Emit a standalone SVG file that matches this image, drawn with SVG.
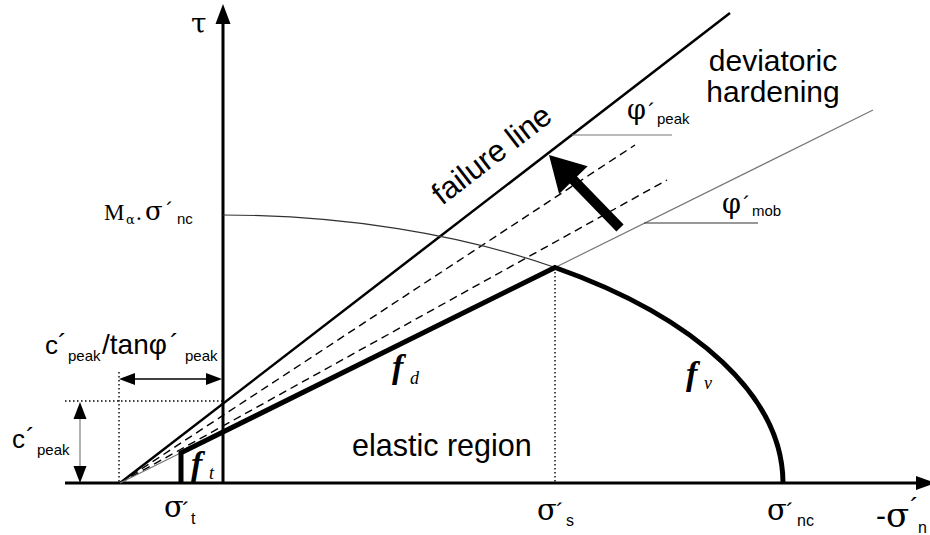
<svg xmlns="http://www.w3.org/2000/svg" width="930" height="535" viewBox="0 0 930 535">
<style>
.ax{stroke:#000;stroke-width:3;fill:none}
.fail{stroke:#000;stroke-width:2.5;fill:none}
.thick{stroke:#000;stroke-width:5;fill:none;stroke-linejoin:miter}
.dash{stroke:#000;stroke-width:1.4;stroke-dasharray:8 5;fill:none}
.thin{stroke:#777;stroke-width:1.2;fill:none}
.dark{stroke:#333;stroke-width:1.2;fill:none}
.dot{stroke:#000;stroke-width:1.4;stroke-dasharray:1.5 2.5;fill:none}
.sans{font-family:"Liberation Sans",Arial,sans-serif;fill:#000}
.serif{font-family:"Liberation Serif","Times New Roman",serif;fill:#000}
.gr{font-family:"DejaVu Serif","Liberation Serif",serif;fill:#000}
.fb{font-family:"Liberation Serif","Times New Roman",serif;font-style:italic;font-weight:bold;fill:#000}
.fi{font-family:"Liberation Serif","Times New Roman",serif;font-style:italic;fill:#000}
</style>
<rect width="930" height="535" fill="#fff"/>
<g id="connectors">
  <line class="ax" x1="65" y1="483" x2="920" y2="483"/>
  <polygon points="916,476 936,483 916,490" fill="#000"/>
  <line class="ax" x1="223" y1="483" x2="223" y2="20"/>
  <polygon points="215.5,24 223,4 230.5,24" fill="#000"/>
  <line class="dot" x1="119" y1="372" x2="119" y2="483"/>
  <line class="dot" x1="65" y1="401" x2="223" y2="401"/>
  <line class="dot" x1="555" y1="268" x2="555" y2="483"/>
  <line stroke="#000" stroke-width="1.5" x1="130" y1="379" x2="212" y2="379"/>
  <polygon points="119,379 135,373 135,385" fill="#000"/>
  <polygon points="222,379 206,373 206,385" fill="#000"/>
  <line stroke="#888" stroke-width="1.3" x1="80" y1="412" x2="80" y2="472"/>
  <polygon points="80,402 73.5,419 86.5,419" fill="#000"/>
  <polygon points="80,483 73.5,466 86.5,466" fill="#000"/>
  <line class="fail" x1="120" y1="483" x2="730" y2="13"/>
  <line class="dash" x1="120" y1="483" x2="635" y2="145"/>
  <line class="dash" x1="120" y1="483" x2="667" y2="180"/>
  <line class="thin" x1="120" y1="483" x2="873" y2="110"/>
  <line class="thin" x1="572" y1="135" x2="672" y2="135"/>
  <line class="dark" x1="644" y1="223" x2="758" y2="223"/>
  <path class="dark" d="M223,215 A561,268 0 0 1 555,267.5"/>
  <path class="thick" d="M181,483 L181,452.8 L555,267.5 A561,268 0 0 1 783,483"/>
  <polygon points="549,155 587.7,166.2 577,176.6 623.6,224.5 616.4,231.5 569.8,183.6 559.1,194" fill="#000"/>
</g>
<g id="axis-labels">
  <text class="gr" x="191" y="33" font-size="28">τ</text>
  <text class="serif" x="104" y="220" font-size="23">M</text>
  <text class="gr" x="126" y="224" font-size="13">α</text>
  <text class="serif" x="136" y="220" font-size="23">.</text>
  <text class="gr" x="145" y="220" font-size="26">σ</text>
  <text class="sans" x="166" y="218" font-size="22">´</text>
  <text class="sans" x="177" y="224" font-size="15">nc</text>

  <text class="gr" x="164" y="517" font-size="29">σ</text>
  <text class="sans" x="182" y="519" font-size="24">´</text>
  <text class="sans" x="191" y="524" font-size="16">t</text>

  <text class="gr" x="537" y="520" font-size="29">σ</text>
  <text class="sans" x="556" y="520" font-size="24">´</text>
  <text class="sans" x="566" y="526" font-size="16">s</text>

  <text class="gr" x="767" y="520" font-size="29">σ</text>
  <text class="sans" x="786" y="520" font-size="24">´</text>
  <text class="sans" x="797" y="526" font-size="16">nc</text>

  <text class="sans" x="876" y="526" font-size="30">-</text>
  <text class="gr" x="886" y="527" font-size="34">σ</text>
  <text class="sans" x="910" y="516" font-size="26">´</text>
  <text class="sans" x="918" y="533" font-size="16">n</text>
</g>
<g id="dimension-labels">
  <text class="sans" x="45" y="354" font-size="26">c</text>
  <text class="sans" x="58" y="352" font-size="26">´</text>
  <text class="sans" x="68" y="361" font-size="15">peak</text>
  <text class="sans" x="102" y="354" font-size="28">/tanφ</text>
  <text class="sans" x="170" y="352" font-size="26">´</text>
  <text class="sans" x="185" y="361" font-size="15">peak</text>

  <text class="sans" x="12" y="448" font-size="26">c</text>
  <text class="sans" x="26" y="446" font-size="26">´</text>
  <text class="sans" x="37" y="455" font-size="15">peak</text>
</g>
<g id="angle-labels">
  <text class="gr" x="627" y="119" font-size="27">φ</text>
  <text class="sans" x="648" y="119" font-size="22">´</text>
  <text class="sans" x="657" y="124" font-size="15">peak</text>
  <text class="gr" x="722" y="213" font-size="27">φ</text>
  <text class="sans" x="743" y="212" font-size="22">´</text>
  <text class="sans" x="752" y="216" font-size="15">mob</text>
</g>
<g id="region-labels">
  <text class="sans" x="773" y="71" font-size="30" text-anchor="middle">deviatoric</text>
  <text class="sans" x="773" y="102" font-size="30" text-anchor="middle">hardening</text>
  <text class="sans" font-size="31" transform="translate(442,206) rotate(-37.6)">failure line</text>
  <text class="sans" x="352" y="456" font-size="30.5">elastic region</text>
</g>
<g id="surface-labels">
  <text class="fb" x="392" y="378" font-size="34">f</text>
  <text class="fi" x="410" y="384" font-size="18">d</text>
  <text class="fb" x="686" y="385" font-size="34">f</text>
  <text class="fi" x="704" y="389" font-size="18">v</text>
  <text class="fb" x="191" y="475" font-size="34">f</text>
  <text class="fi" x="209" y="479" font-size="18">t</text>
</g>
</svg>
